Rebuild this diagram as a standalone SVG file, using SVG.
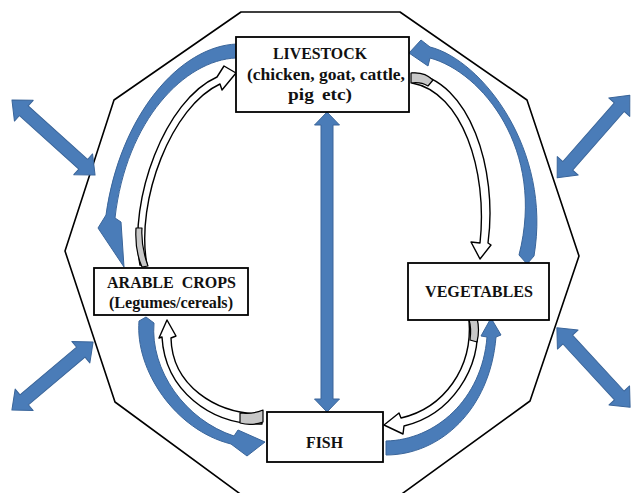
<svg xmlns="http://www.w3.org/2000/svg" width="631" height="493" viewBox="0 0 631 493">
<style>
.oct{fill:none;stroke:#000;stroke-width:1.6;stroke-linejoin:round}
.box{fill:#fff;stroke:#000;stroke-width:1.8}
.t{font-family:"Liberation Serif","Times New Roman",serif;font-weight:bold;fill:#111;text-anchor:middle}
.blue{fill:#4a7cb8;stroke:#3a659a;stroke-width:1;stroke-linejoin:round}
.wa{fill:#fff;stroke:#000;stroke-width:1.4;stroke-linejoin:round}
.gt{fill:#c8c8c8;stroke:#000;stroke-width:1.2;stroke-linejoin:round}
</style>
<rect width="631" height="493" fill="#fff"/>
<path class="oct" d="M241,12 L400,12 L527,100 L579,256 L530,401 L399,496 L243,496 L115,402 L65,251 L114,100 Z"/>
<g id="connectors">
  <polygon class="blue" transform="translate(53.5,137.5) rotate(42.1)" points="-56,0 -40,-14 -40,-6.5 40,-6.5 40,-14 56,0 40,14 40,6.5 -40,6.5 -40,14"/>
  <polygon class="blue" transform="translate(52.5,376) rotate(-40)" points="-53,0 -37,-14 -37,-6.5 37,-6.5 37,-14 53,0 37,14 37,6.5 -37,6.5 -37,14"/>
  <polygon class="blue" transform="translate(593.5,136.5) rotate(-48.7)" points="-55,0 -39,-14 -39,-6.5 39,-6.5 39,-14 55,0 39,14 39,6.5 -39,6.5 -39,14"/>
  <polygon class="blue" transform="translate(593.5,367.5) rotate(47.3)" points="-54,0 -38,-14 -38,-6.5 38,-6.5 38,-14 54,0 38,14 38,6.5 -38,6.5 -38,14"/>
  <polygon class="blue" points="327,112 339.5,125 333,125 333,399 339.5,399 327,412 314.5,399 321,399 321,125 314.5,125"/>
  <path class="blue" d="M237,44 C180,46 120,115 106,215 L98,228 L124,267 L121,222 L115,218 C126,120 185,60 236,58 Z"/>
  <path class="blue" d="M430,47 C482,60 552,150 534,256 L527,264 L519,255 C546,150 482,72 430,58 L428,66 L409,53 L421,40 Z"/>
  <path class="blue" d="M146,317 L154,323 C150,370 185,420 234,436 L238,430 L265,442 L247,456 L231,444 C175,430 135,370 139,321 Z"/>
  <path class="blue" d="M386,441 C435,440 482,400 487,337 L481,336 L491,318 L501,335 L496,337 C490,410 440,455 386,455 Z"/>
  <path class="wa" d="M140,265 C128,200 165,100 217,77 L224,66 L236,73 L222,90 L220,84 C172,106 135,200 147,265 Z"/>
  <path class="gt" d="M136,228 C135,245 138,258 142,267 L148,266 C144,255 141,243 142,228 Z"/>
  <path class="wa" d="M412,73 C470,80 498,170 488,243 L491,245 L480,259 L471,242 L480,243 C488,170 462,92 412,83 Z"/>
  <path class="gt" d="M411,73 C420,72 428,75 433,80 L428,86 C423,83 417,82 411,83 Z"/>
  <path class="wa" d="M477,320 C482,370 450,415 404,426 L403,434 L384,425 L399,413 L401,418 C444,408 473,368 469,320 Z"/>
  <path class="gt" d="M469,320 L477,318 C479,326 479,334 477,342 L470,340 C471,333 471,326 469,320 Z"/>
  <path class="wa" d="M262,424 C210,425 165,390 162,337 L159,338 L167,320 L176,336 L171,338 C172,385 215,414 262,414 Z"/>
  <path class="gt" d="M240,413 C248,414 256,413 263,410 L263,422 C255,425 247,425 240,423 Z"/>
</g>
<g id="livestock">
  <rect class="box" x="236" y="37" width="173" height="75"/>
  <text class="t" x="320" y="59" font-size="16.5" textLength="94" lengthAdjust="spacingAndGlyphs">LIVESTOCK</text>
  <text class="t" x="326" y="80" font-size="17.5" textLength="158" lengthAdjust="spacingAndGlyphs">(chicken, goat, cattle,</text>
  <text class="t" x="320" y="100" font-size="17.5" textLength="64" lengthAdjust="spacingAndGlyphs" word-spacing="3">pig etc)</text>
</g>
<g id="arable">
  <rect class="box" x="94" y="268" width="154" height="47"/>
  <text class="t" x="171.5" y="288" font-size="16" textLength="129" lengthAdjust="spacingAndGlyphs" xml:space="preserve">ARABLE  CROPS</text>
  <text class="t" x="171" y="308" font-size="16" textLength="124" lengthAdjust="spacingAndGlyphs">(Legumes/cereals)</text>
</g>
<g id="vegetables">
  <rect class="box" x="408" y="263" width="141" height="57"/>
  <text class="t" x="479" y="297" font-size="16" textLength="108" lengthAdjust="spacingAndGlyphs">VEGETABLES</text>
</g>
<g id="fish">
  <rect class="box" x="267" y="412" width="116" height="50"/>
  <text class="t" x="324.5" y="448" font-size="16.5" textLength="37" lengthAdjust="spacingAndGlyphs">FISH</text>
</g>
</svg>
